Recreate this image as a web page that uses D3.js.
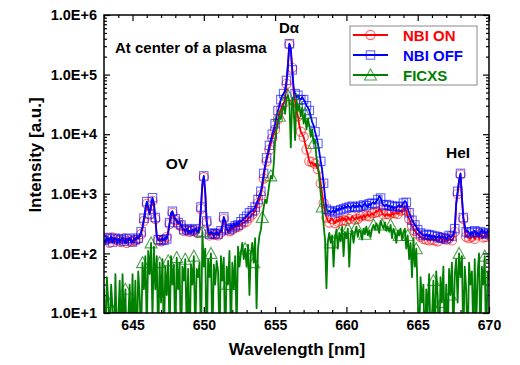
<!DOCTYPE html>
<html><head><meta charset="utf-8">
<script src="https://cdn.jsdelivr.net/npm/d3@7"></script>
<style>
body{margin:0;background:#fff}
text{font-family:"Liberation Sans",Arial,sans-serif;font-weight:bold}
</style>
</head><body><svg id="c" width="520" height="365"></svg>
<script>
// ---- data ----
const wavelength = [
643.0,643.1,643.2,643.3,643.4,643.5,643.6,643.7,643.8,643.9,
644.0,644.1,644.2,644.3,644.4,644.5,644.6,644.7,644.8,644.9,
645.0,645.1,645.2,645.3,645.4,645.5,645.6,645.7,645.8,645.9,
646.0,646.1,646.2,646.3,646.4,646.5,646.6,646.7,646.8,646.9,
647.0,647.1,647.2,647.3,647.4,647.5,647.6,647.7,647.8,647.9,
648.0,648.1,648.2,648.3,648.4,648.5,648.6,648.7,648.8,648.9,
649.0,649.1,649.2,649.3,649.4,649.5,649.6,649.7,649.8,649.9,
650.0,650.1,650.2,650.3,650.4,650.5,650.6,650.7,650.8,650.9,
651.0,651.1,651.2,651.3,651.4,651.5,651.6,651.7,651.8,651.9,
652.0,652.1,652.2,652.3,652.4,652.5,652.6,652.7,652.8,652.9,
653.0,653.1,653.2,653.3,653.4,653.5,653.6,653.7,653.8,653.9,
654.0,654.1,654.2,654.3,654.4,654.5,654.6,654.7,654.8,654.9,
655.0,655.1,655.2,655.3,655.4,655.5,655.6,655.7,655.8,655.9,
656.0,656.1,656.2,656.3,656.4,656.5,656.6,656.7,656.8,656.9,
657.0,657.1,657.2,657.3,657.4,657.5,657.6,657.7,657.8,657.9,
658.0,658.1,658.2,658.3,658.4,658.5,658.6,658.7,658.8,658.9,
659.0,659.1,659.2,659.3,659.4,659.5,659.6,659.7,659.8,659.9,
660.0,660.1,660.2,660.3,660.4,660.5,660.6,660.7,660.8,660.9,
661.0,661.1,661.2,661.3,661.4,661.5,661.6,661.7,661.8,661.9,
662.0,662.1,662.2,662.3,662.4,662.5,662.6,662.7,662.8,662.9,
663.0,663.1,663.2,663.3,663.4,663.5,663.6,663.7,663.8,663.9,
664.0,664.1,664.2,664.3,664.4,664.5,664.6,664.7,664.8,664.9,
665.0,665.1,665.2,665.3,665.4,665.5,665.6,665.7,665.8,665.9,
666.0,666.1,666.2,666.3,666.4,666.5,666.6,666.7,666.8,666.9,
667.0,667.1,667.2,667.3,667.4,667.5,667.6,667.7,667.8,667.9,
668.0,668.1,668.2,668.3,668.4,668.5,668.6,668.7,668.8,668.9,
669.0,669.1,669.2,669.3,669.4,669.5,669.6,669.7,669.8,669.9,
670.0];

const nbiOn = [
170,155,180,165,150,175,185,160,170,150,
165,175,155,170,180,160,150,170,165,175,
160,150,165,180,175,190,210,260,350,500,
680,560,450,580,760,640,380,200,165,175,
160,175,170,160,190,230,310,440,480,400,
360,340,310,320,290,260,240,230,245,220,
230,215,240,225,245,235,220,260,560,1400,
1900,1000,330,220,200,215,210,195,205,220,
200,215,225,280,380,330,250,225,235,280,
250,290,270,300,280,310,300,320,330,340,
340,380,400,420,450,480,520,600,700,800,
950,1300,1800,2700,3500,4500,5500,7000,8500,10000,
12000,14000,18000,22000,26000,30000,33000,38000,70000,140000,
320000,250000,130000,50000,35000,25000,20000,14000,11000,10000,
9000,7000,5500,4500,3500,3200,3400,3000,3200,2800,
2600,2200,1500,1000,700,500,400,350,330,380,
380,350,320,360,340,380,350,400,360,390,
350,400,380,360,420,390,370,410,380,400,
420,380,440,400,430,460,420,450,470,440,
480,520,500,560,530,480,450,420,460,430,
450,420,480,440,470,500,460,480,520,490,
540,600,520,420,380,320,290,260,240,220,
210,200,190,180,175,185,170,180,165,175,
170,180,165,175,160,170,185,165,175,160,
170,160,180,175,165,180,230,650,1000,1600,
2100,850,380,240,190,200,180,175,190,200,
175,190,200,180,210,195,185,200,190,210,
200];

const nbiOff = [
165,150,185,160,175,190,155,170,180,160,
175,155,170,185,160,150,175,165,180,160,
155,175,170,190,180,200,230,280,390,560,
740,600,460,620,860,700,400,190,170,165,
170,180,165,185,175,220,330,480,510,430,
380,360,330,340,300,270,250,240,260,230,
240,220,250,235,260,245,230,280,600,1500,
2000,1100,350,240,210,230,220,200,215,230,
210,225,240,300,410,350,260,240,250,300,
270,320,290,330,300,350,340,360,380,400,
420,450,480,500,520,550,600,700,800,950,
1100,1500,2200,3000,4000,5000,6500,8000,10000,12000,
15000,20000,25000,30000,38000,45000,48000,55000,80000,150000,
330000,280000,120000,60000,48000,42000,45000,40000,38000,42000,
38000,35000,30000,28000,25000,20000,16000,14000,11000,9000,
7000,5000,3500,2500,1500,900,550,500,520,480,
500,530,480,560,520,580,540,600,560,620,
580,640,600,560,620,650,590,640,600,660,
620,580,650,700,630,600,680,640,700,720,
680,750,800,920,850,700,650,620,660,600,
640,580,620,560,600,580,620,650,600,640,
700,760,720,560,480,420,360,330,300,280,
250,230,220,210,200,195,210,190,205,180,
200,185,195,175,190,200,180,195,185,190,
175,190,200,185,195,210,260,700,1100,1700,
2200,900,400,300,230,240,220,200,230,215,
240,210,225,200,230,250,220,235,210,240,
220];

const ficxs = [
25,3,40,15,4,30,12,2,45,5,
8,35,3,45,6,25,2,8,30,3,
45,4,35,2,50,20,3,70,25,90,
5,110,45,150,8,130,25,90,3,70,
15,80,3,60,20,75,4,90,30,65,
3,85,25,70,2,60,35,80,5,55,
2,65,30,90,4,55,40,70,3,230,
60,120,2,80,40,100,3,65,30,75,
50,3,90,35,85,2,60,30,110,4,
70,25,90,5,130,60,100,150,80,120,
60,140,20,100,150,70,180,12,120,200,
250,400,600,800,700,1000,1500,2000,1800,3000,
8000,12000,15000,20000,18000,25000,30000,22000,40000,45000,
35000,6000,40000,30000,8000,38000,25000,30000,20000,28000,
15000,22000,12000,18000,14000,9000,12000,7000,8000,4000,
3000,1800,1000,600,300,170,26,160,220,150,
200,60,180,250,120,220,160,280,90,230,
180,260,60,200,240,150,220,280,190,250,
230,170,260,210,280,200,240,190,260,300,
250,320,280,220,350,300,260,330,240,280,
230,300,180,260,220,150,240,200,260,170,
230,260,120,200,80,150,40,180,60,120,
20,3,40,15,30,2,25,10,45,4,
8,35,3,50,20,2,40,15,60,3,
30,3,55,20,70,4,45,80,15,100,
40,90,3,60,25,2,70,30,50,4,
80,5,45,100,3,60,30,90,2,50,
35];

const seriesNames = ["NBI ON", "NBI OFF", "FICXS"];
const xTicks = [645, 650, 655, 660, 665, 670];
const yTicks = [1e1, 1e2, 1e3, 1e4, 1e5, 1e6];
const yTickLabels = ["1.0E+1", "1.0E+2", "1.0E+3", "1.0E+4", "1.0E+5", "1.0E+6"];
const xTitle = "Wavelength [nm]";
const yTitle = "Intensity [a.u.]";
const noteText = "At center of a plasma";
const lineLabels = ["D\u03B1", "OV", "HeI"];

// ---- chart ----
const L = 104, R = 489, T = 15, B = 313;
const svg = d3.select("#c");
const x = d3.scaleLinear().domain([643.0, 670]).range([L, R]);
const y = d3.scaleLog().domain([10, 1e6]).range([B, T]);

const colors = ["#ff0000", "#0000ff", "#008000"];
const seriesData = [nbiOn, nbiOff, ficxs];

svg.append("defs").append("clipPath").attr("id", "clip")
  .append("rect").attr("x", L).attr("y", T).attr("width", R - L).attr("height", B - T);

const xMinor = d3.range(643, 671).filter(v => !xTicks.includes(v));
const yMinor = [];
for (let k = 1; k < 6; k++) for (let j = 2; j < 10; j++) yMinor.push(j * Math.pow(10, k));

function styleAxis(g) {
  g.select(".domain").remove();
  g.selectAll("line").attr("stroke", "#000").attr("stroke-width", 1.2);
}

// bottom
svg.append("g").attr("transform", `translate(0,${B})`)
  .call(d3.axisBottom(x).tickValues(xTicks).tickSize(-6).tickPadding(7).tickFormat(d3.format("d")))
  .call(styleAxis)
  .call(g => g.selectAll("text").attr("font-size", 14).attr("fill", "#000")
    .style("font-family", '"Liberation Sans",Arial,sans-serif').style("font-weight", "bold"));
svg.append("g").attr("transform", `translate(0,${B})`)
  .call(d3.axisBottom(x).tickValues(xMinor).tickSize(-3).tickFormat("")).call(styleAxis);
// top
svg.append("g").attr("transform", `translate(0,${T})`)
  .call(d3.axisTop(x).tickValues(xTicks).tickSize(-6).tickFormat("")).call(styleAxis);
svg.append("g").attr("transform", `translate(0,${T})`)
  .call(d3.axisTop(x).tickValues(xMinor).tickSize(-3).tickFormat("")).call(styleAxis);
// left
svg.append("g").attr("transform", `translate(${L},0)`)
  .call(d3.axisLeft(y).tickValues(yTicks).tickSize(-6).tickPadding(7).tickFormat((d, i) => yTickLabels[i]))
  .call(styleAxis)
  .call(g => g.selectAll("text").attr("font-size", 14.5).attr("fill", "#000")
    .style("font-family", '"Liberation Sans",Arial,sans-serif').style("font-weight", "bold"));
svg.append("g").attr("transform", `translate(${L},0)`)
  .call(d3.axisLeft(y).tickValues(yMinor).tickSize(-3).tickFormat("")).call(styleAxis);
// right
svg.append("g").attr("transform", `translate(${R},0)`)
  .call(d3.axisRight(y).tickValues(yTicks).tickSize(-6).tickFormat("")).call(styleAxis);
svg.append("g").attr("transform", `translate(${R},0)`)
  .call(d3.axisRight(y).tickValues(yMinor).tickSize(-3).tickFormat("")).call(styleAxis);

// series
const plot = svg.append("g").attr("clip-path", "url(#clip)");
const lineGen = vals => d3.line()
  .x((d, i) => x(wavelength[i]))
  .y(d => y(Math.max(d, 1)))(vals);

const markerStride = [2, 2, 6];
const markerOffset = [0, 0, 3];
const triPath = "M0,-6L6,5L-6,5Z";

function drawMarker(g, kind, cx, cy, color) {
  if (kind === 0) {
    g.append("circle").attr("cx", cx).attr("cy", cy).attr("r", 4.6)
      .attr("fill", "none").attr("stroke", color).attr("stroke-width", 1.1).attr("stroke-opacity", 0.6);
  } else if (kind === 1) {
    g.append("rect").attr("x", cx - 4.2).attr("y", cy - 4.2).attr("width", 8.4).attr("height", 8.4)
      .attr("fill", "none").attr("stroke", color).attr("stroke-width", 1.1).attr("stroke-opacity", 0.6);
  } else {
    g.append("path").attr("d", triPath).attr("transform", `translate(${cx},${cy})`)
      .attr("fill", "none").attr("stroke", color).attr("stroke-width", 1.1).attr("stroke-opacity", 0.7);
  }
}

seriesData.forEach((vals, s) => {
  const g = plot.append("g");
  g.append("path").attr("d", lineGen(vals)).attr("fill", "none")
    .attr("stroke", colors[s]).attr("stroke-width", 1.8).attr("stroke-linejoin", "round");
  vals.forEach((v, i) => {
    if (i % markerStride[s] === markerOffset[s] % markerStride[s] && v >= 10) {
      drawMarker(g, s, x(wavelength[i]), y(v), colors[s]);
    }
  });
});

// frame
svg.append("rect").attr("x", L).attr("y", T).attr("width", R - L).attr("height", B - T)
  .attr("fill", "none").attr("stroke", "#000").attr("stroke-width", 1.5);

// legend
const lg = svg.append("g");
lg.append("rect").attr("x", 350).attr("y", 26).attr("width", 127).attr("height", 59)
  .attr("fill", "#fff").attr("stroke", "#8a8a8a").attr("stroke-width", 1);
seriesNames.forEach((name, s) => {
  const ly = 35 + s * 20;
  lg.append("line").attr("x1", 353).attr("x2", 388).attr("y1", ly).attr("y2", ly)
    .attr("stroke", colors[s]).attr("stroke-width", 1.8);
  drawMarker(lg, s, 370.5, ly, colors[s]);
  lg.append("text").attr("x", 403).attr("y", ly + 5.5).attr("font-size", 15)
    .attr("fill", colors[s]).text(name);
});

// annotations
svg.append("text").attr("x", 115).attr("y", 53).attr("font-size", 15).text(noteText);
svg.append("text").attr("x", 289).attr("y", 33).attr("font-size", 15).attr("text-anchor", "middle").text(lineLabels[0]);
svg.append("text").attr("x", 177).attr("y", 169).attr("font-size", 15.5).attr("text-anchor", "middle").text(lineLabels[1]);
svg.append("text").attr("x", 458).attr("y", 158).attr("font-size", 15.5).attr("text-anchor", "middle").text(lineLabels[2]);

// axis titles
svg.append("text").attr("x", 297).attr("y", 355).attr("font-size", 17).attr("text-anchor", "middle").text(xTitle);
svg.append("text").attr("transform", "translate(41,155) rotate(-90)").attr("font-size", 17)
  .attr("text-anchor", "middle").text(yTitle);
</script>
</body></html>
